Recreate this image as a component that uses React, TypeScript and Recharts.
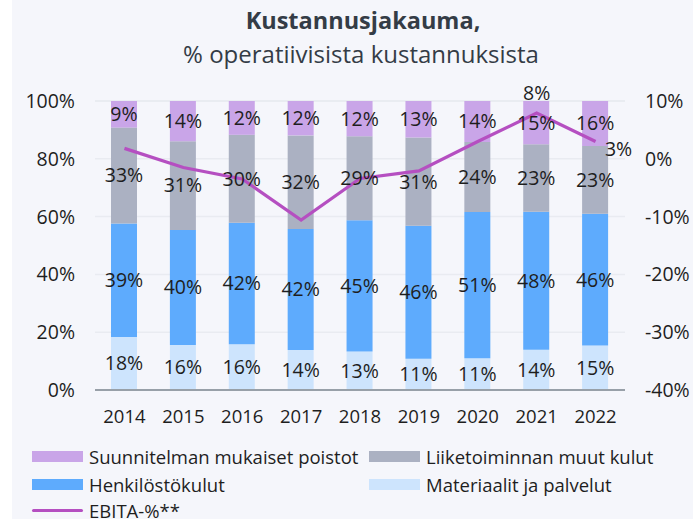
import React from 'react';
import { ComposedChart, Bar, Line, XAxis, YAxis, CartesianGrid, LabelList } from 'recharts';

const years = ['2014', '2015', '2016', '2017', '2018', '2019', '2020', '2021', '2022'];
const materiaalit = [18.3, 15.6, 15.8, 13.8, 13.3, 10.8, 11.0, 13.9, 15.4];
const henkilosto = [39.3, 39.8, 42.1, 41.9, 45.4, 46.0, 50.6, 47.8, 45.6];
const liiketoiminta = [33.2, 30.7, 30.4, 32.4, 29.1, 30.6, 24.2, 23.3, 23.4];
const poistot = [9.2, 13.9, 11.7, 11.9, 12.2, 12.6, 14.2, 15.0, 15.6];
const ebita = [1.8, -1.5, -3.5, -10.6, -3.4, -2.1, 3.0, 7.9, 3.0];
const ebitaLabels = ['', '', '', '', '', '', '', '8%', '3%'];

const leftTicks = [0, 20, 40, 60, 80, 100];
const rightTicks = [-40, -30, -20, -10, 0, 10];

const FONT = '"Open Sans", Lato, sans-serif';
const TEXT = '#1e1e1e';

const data = years.map((y, i) => ({
  year: y,
  materiaalit: materiaalit[i],
  henkilosto: henkilosto[i],
  liiketoiminta: liiketoiminta[i],
  poistot: poistot[i],
  ebita: ebita[i],
  ebitaLabel: ebitaLabels[i],
}));

const legendItems = [
  { name: 'Suunnitelman mukaiset poistot', color: '#c9a5e8', type: 'box', x: 20, y: 456 },
  { name: 'Liiketoiminnan muut kulut', color: '#abb1c2', type: 'box', x: 357, y: 456 },
  { name: 'Henkilöstökulut', color: '#5eabfd', type: 'box', x: 20, y: 484 },
  { name: 'Materiaalit ja palvelut', color: '#cde4fd', type: 'box', x: 357, y: 484 },
  { name: 'EBITA-%**', color: '#b54fc1', type: 'line', x: 20, y: 510 },
];

const pct = (v: any) => `${Math.round(Number(v))}%`;

const EbitaLabel = (props: any) => {
  const { x, y, index, value } = props;
  if (!value) return null;
  const dx = index === 8 ? 23 : 0;
  const dy = index === 8 ? 7 : -21;
  return (
    <text x={x + dx} y={y + dy} textAnchor="middle" dominantBaseline="central"
      fontSize={19.5} fontFamily={FONT} fill={TEXT}>
      {value}
    </text>
  );
};

const labelProps = { position: 'center' as const, formatter: pct, fontSize: 19.5, fill: TEXT, fontFamily: FONT };

const App: React.FC = () => {
  return (
    <div style={{ position: 'absolute', left: 12, top: 0, width: 681, height: 519, background: '#f5f6fb', fontFamily: FONT, overflow: 'hidden' }}>
      <div style={{ position: 'absolute', left: 0, width: 702, top: 4, textAlign: 'center', fontSize: 23.5, fontWeight: 700, color: '#343c46' }}>
        Kustannusjakauma,
      </div>
      <div style={{ position: 'absolute', left: 0, width: 698, top: 37, textAlign: 'center', fontSize: 24, color: '#343c46' }}>
        % operatiivisista kustannuksista
      </div>
      <ComposedChart width={681} height={519} data={data} margin={{ top: 101, right: 0, left: 0, bottom: 99 }} barCategoryGap={0}>
        <CartesianGrid vertical={false} stroke="#e9ebf1" strokeWidth={1.5} yAxisId="left" />
        <XAxis dataKey="year" tickLine={false} tickSize={0} tickMargin={20} height={30}
          axisLine={{ stroke: '#98a0a8', strokeWidth: 2 }}
          tick={{ fontSize: 18.5, fill: TEXT, fontFamily: FONT }} interval={0} />
        <YAxis yAxisId="left" domain={[0, 100]} ticks={leftTicks} width={83} tickLine={false} axisLine={false}
          tickSize={0} tickMargin={20} tickFormatter={(v) => `${v}%`}
          tick={{ fontSize: 19.5, fill: TEXT, fontFamily: FONT }} />
        <YAxis yAxisId="right" orientation="right" domain={[-40, 10]} ticks={rightTicks} width={68}
          tickLine={false} axisLine={false} tickSize={0} tickMargin={20} tickFormatter={(v) => `${v}%`}
          tick={{ fontSize: 19.5, fill: TEXT, fontFamily: FONT }} />
        <Bar yAxisId="left" dataKey="materiaalit" stackId="a" fill="#cde4fd" barSize={26} isAnimationActive={false}>
          <LabelList dataKey="materiaalit" {...labelProps} />
        </Bar>
        <Bar yAxisId="left" dataKey="henkilosto" stackId="a" fill="#5eabfd" barSize={26} isAnimationActive={false}>
          <LabelList dataKey="henkilosto" {...labelProps} />
        </Bar>
        <Bar yAxisId="left" dataKey="liiketoiminta" stackId="a" fill="#abb1c2" barSize={26} isAnimationActive={false}>
          <LabelList dataKey="liiketoiminta" {...labelProps} />
        </Bar>
        <Bar yAxisId="left" dataKey="poistot" stackId="a" fill="#c9a5e8" barSize={26} isAnimationActive={false}>
          <LabelList dataKey="poistot" {...labelProps} />
        </Bar>
        <Line yAxisId="right" type="linear" dataKey="ebita" stroke="#b54fc1" strokeWidth={3.2} dot={false} isAnimationActive={false}>
          <LabelList dataKey="ebitaLabel" content={EbitaLabel} />
        </Line>
      </ComposedChart>
      {legendItems.map((it) => (
        <div key={it.name} style={{ position: 'absolute', left: it.x, top: it.y - 14, height: 28, display: 'flex', alignItems: 'center', fontSize: 18.5, color: TEXT, whiteSpace: 'nowrap' }}>
          <span style={{ display: 'inline-block', width: 51, height: it.type === 'line' ? 3 : 11, background: it.color, marginRight: 6, borderRadius: it.type === 'line' ? 2 : 0 }} />
          {it.name}
        </div>
      ))}
    </div>
  );
};

export default App;
